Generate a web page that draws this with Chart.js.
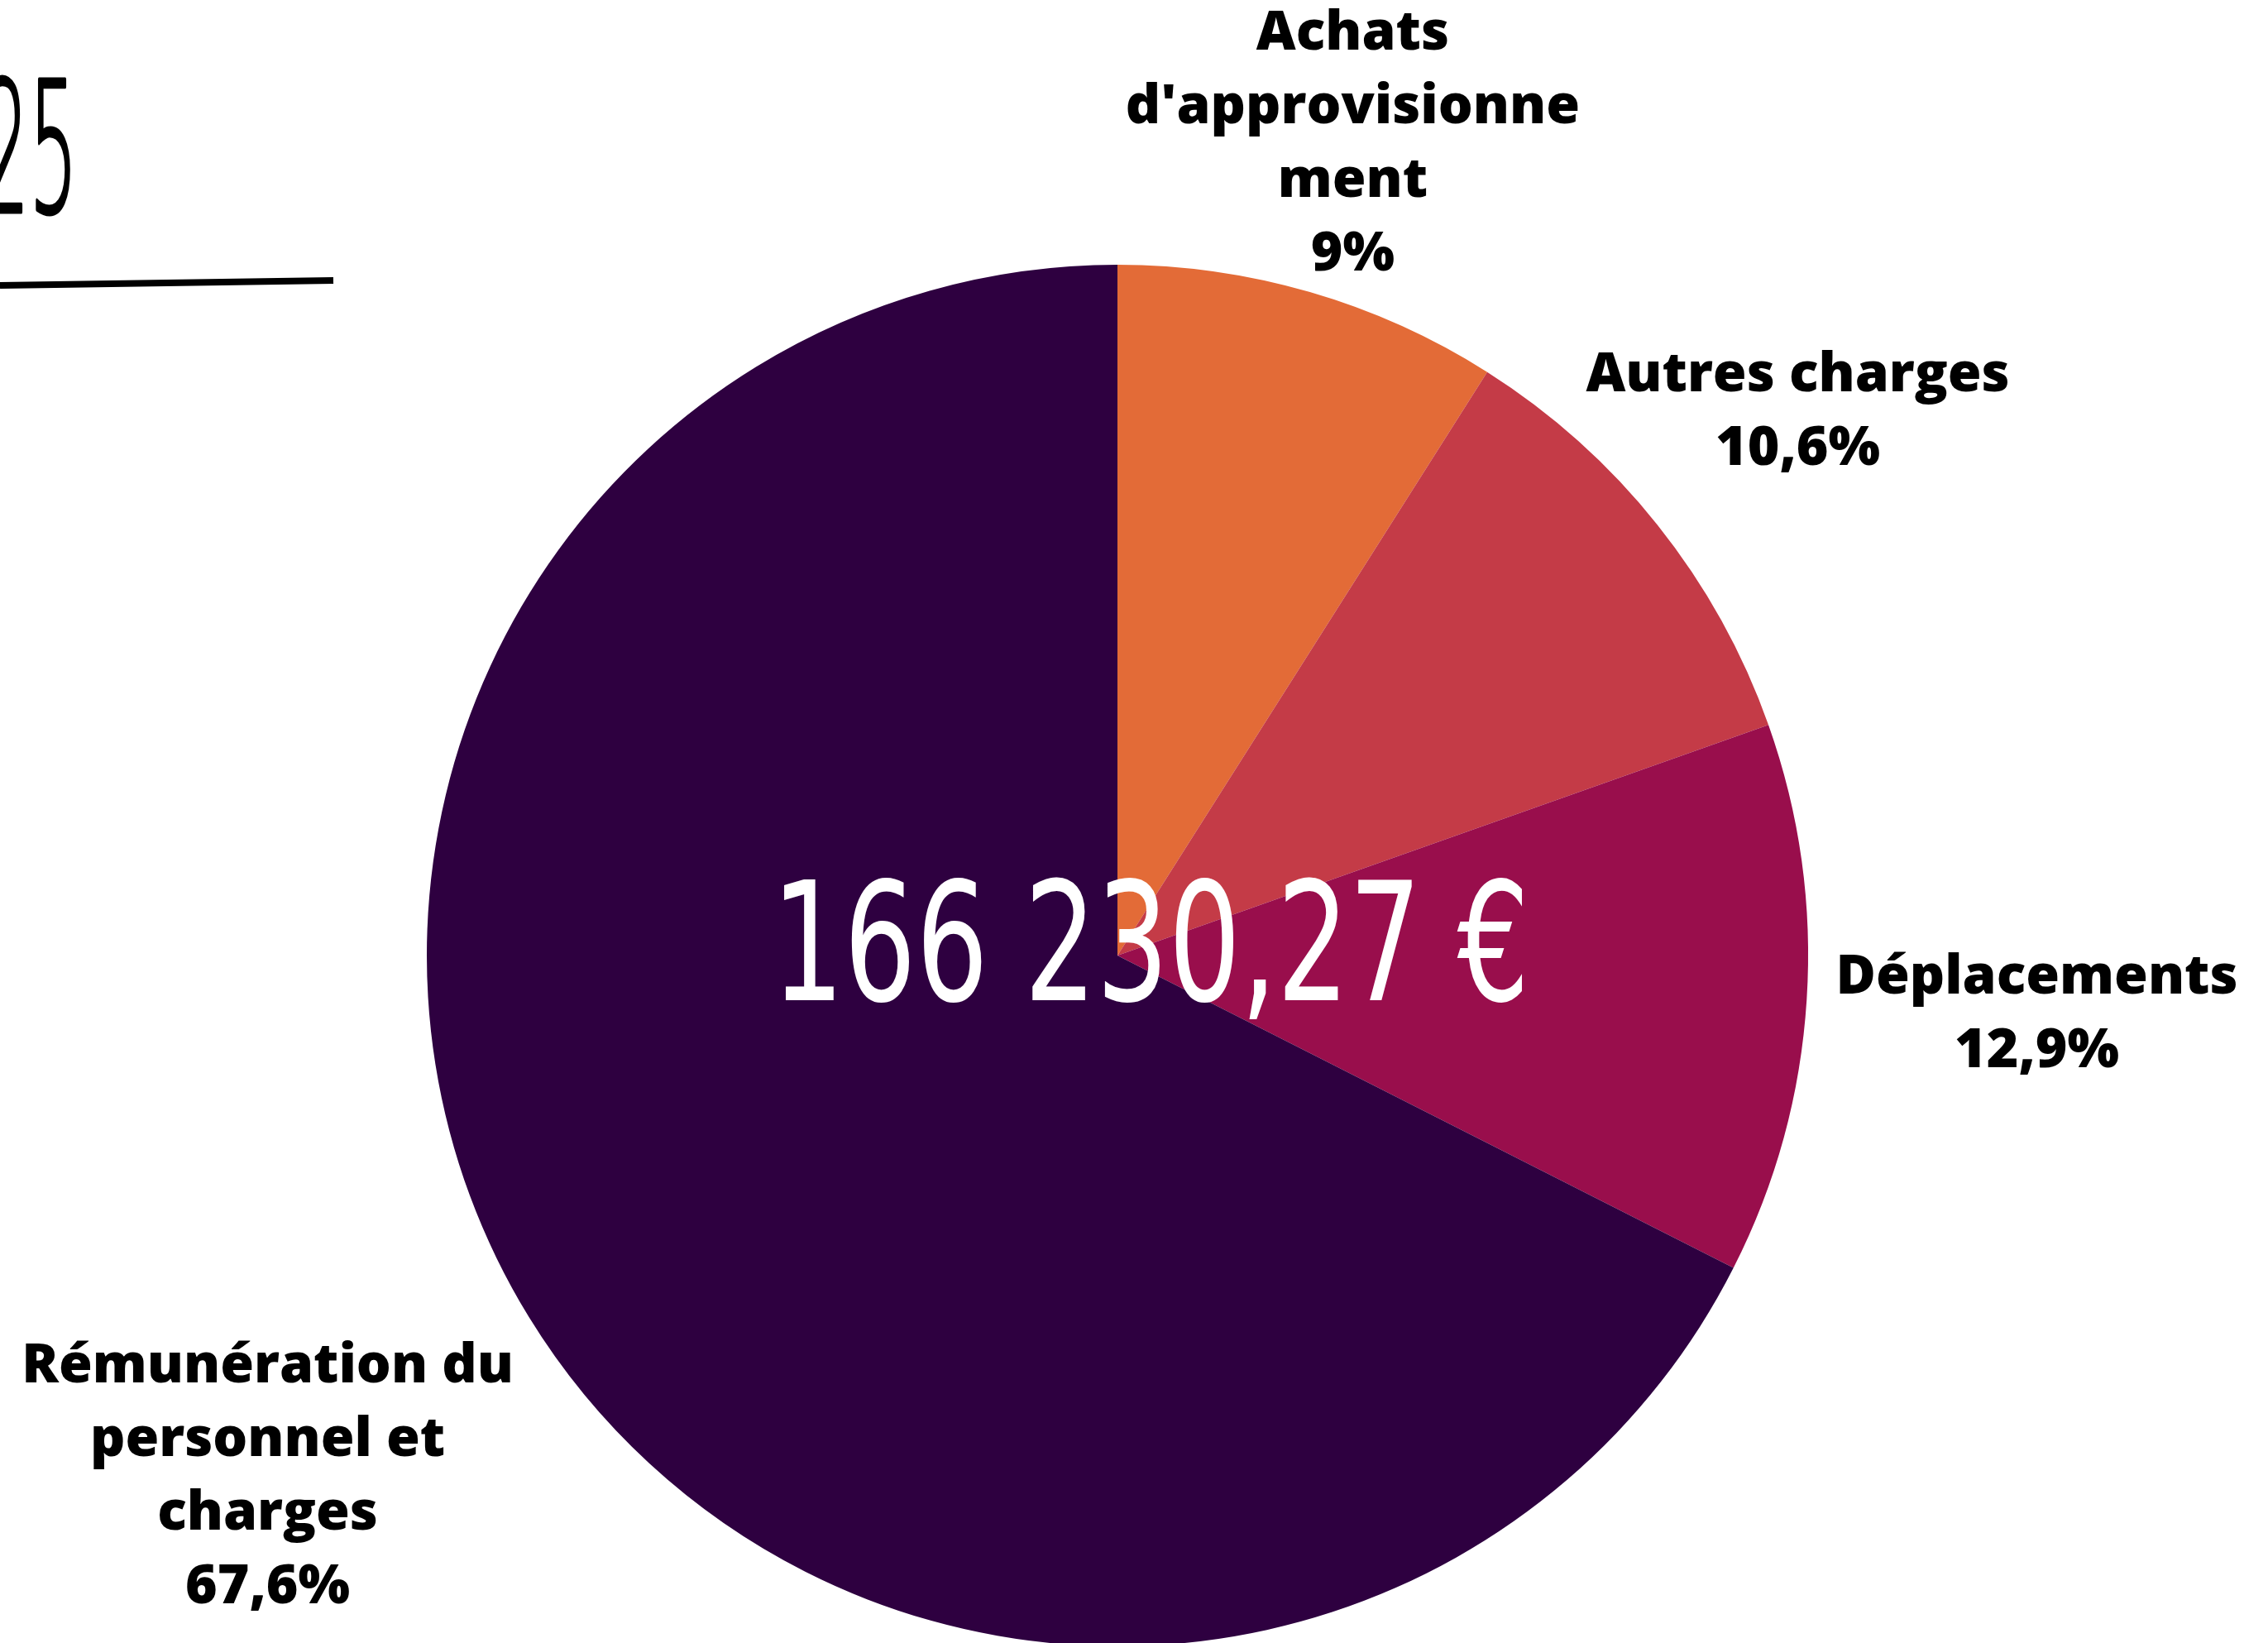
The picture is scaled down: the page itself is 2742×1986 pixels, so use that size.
<!DOCTYPE html>
<html>
<head>
<meta charset="utf-8">
<script src="https://cdn.jsdelivr.net/npm/chart.js@4.4.0/dist/chart.umd.min.js"></script>
<style>
  html, body { margin: 0; padding: 0; background: #fff; overflow: hidden; }
  #wrap { position: relative; width: 2742px; height: 2000px; }
</style>
</head>
<body>
<div id="wrap"><canvas id="myChart"></canvas></div>
<script>
// chart data
var labels = [
  ['Achats', "d'approvisionne", 'ment'],
  ['Autres charges'],
  ['Déplacements'],
  ['Rémunération du', 'personnel et', 'charges']
];
var shares = [9, 10.6, 12.9, 67.6];
var colors = ['#E36B37', '#C43B47', '#990E4C', '#2E0040'];
var totalText = '166 230,27 €';
var yearText = '2025';

// how far each label block sits from the centre, in pie radii
var labelDistance = [1.222, 1.26, 1.334, 1.444];

function fmtPct(v) {
  return String(v).replace('.', ',') + '%';
}

// outside labels + centre total + the little header scrap top-left
var decoPlugin = {
  id: 'deco',
  afterDatasetsDraw: function (chart) {
    var ctx = chart.ctx;
    var arcs = chart.getDatasetMeta(0).data;
    var lh = 89;
    ctx.save();
    ctx.fillStyle = '#000';
    ctx.font = '800 66px "Open Sans"';
    ctx.textAlign = 'center';
    ctx.textBaseline = 'middle';
    arcs.forEach(function (arc, i) {
      var mid = (arc.startAngle + arc.endAngle) / 2;
      var d = arc.outerRadius * labelDistance[i];
      var bx = arc.x + d * Math.cos(mid);
      var by = arc.y + d * Math.sin(mid);
      var lines = labels[i].concat([fmtPct(shares[i])]);
      var y0 = by - (lines.length - 1) * lh / 2;
      lines.forEach(function (t, k) {
        ctx.fillText(t, bx, y0 + k * lh);
      });
    });

    // total in the middle, squeezed to a condensed look
    var a0 = arcs[0];
    ctx.fillStyle = '#fff';
    ctx.font = '500 200px "DejaVu Sans Condensed", "DejaVu Sans"';
    var w = ctx.measureText(totalText).width;
    var sx = 916 / w;
    ctx.translate(a0.x + 40, a0.y + 2);
    ctx.scale(sx, 1);
    ctx.fillText(totalText, 0, 0);
    ctx.restore();

    // "2025" header, mostly cut off by the left edge
    ctx.save();
    ctx.fillStyle = '#000';
    ctx.strokeStyle = '#000';
    ctx.lineJoin = 'round';
    ctx.font = '200 220px "DejaVu Sans"';
    ctx.textAlign = 'right';
    ctx.textBaseline = 'alphabetic';
    ctx.translate(94, 256);
    ctx.scale(0.42, 1);
    ctx.lineWidth = 5;
    ctx.fillText(yearText, 0, 0);
    ctx.strokeText(yearText, 0, 0);
    ctx.restore();

    ctx.save();
    ctx.strokeStyle = '#000';
    ctx.lineWidth = 8;
    ctx.beginPath();
    ctx.moveTo(0, 345);
    ctx.lineTo(403, 339);
    ctx.stroke();
    ctx.restore();
  }
};

var ctx = document.getElementById('myChart').getContext('2d');
var myChart = new Chart(ctx, {
  type: 'pie',
  data: {
    labels: labels,
    datasets: [
      {
        data: shares,
        backgroundColor: colors,
        borderWidth: 0,
        hoverOffset: 0,
        offset: 0
      }
    ]
  },
  options: {
    responsive: true,
    maintainAspectRatio: false,
    animation: false,
    layout: {
      padding: { left: 516, right: 556, top: 320, bottom: 10 }
    },
    plugins: {
      legend: { display: false },
      tooltip: { enabled: false }
    }
  },
  plugins: [decoPlugin]
});
</script>
</body>
</html>
